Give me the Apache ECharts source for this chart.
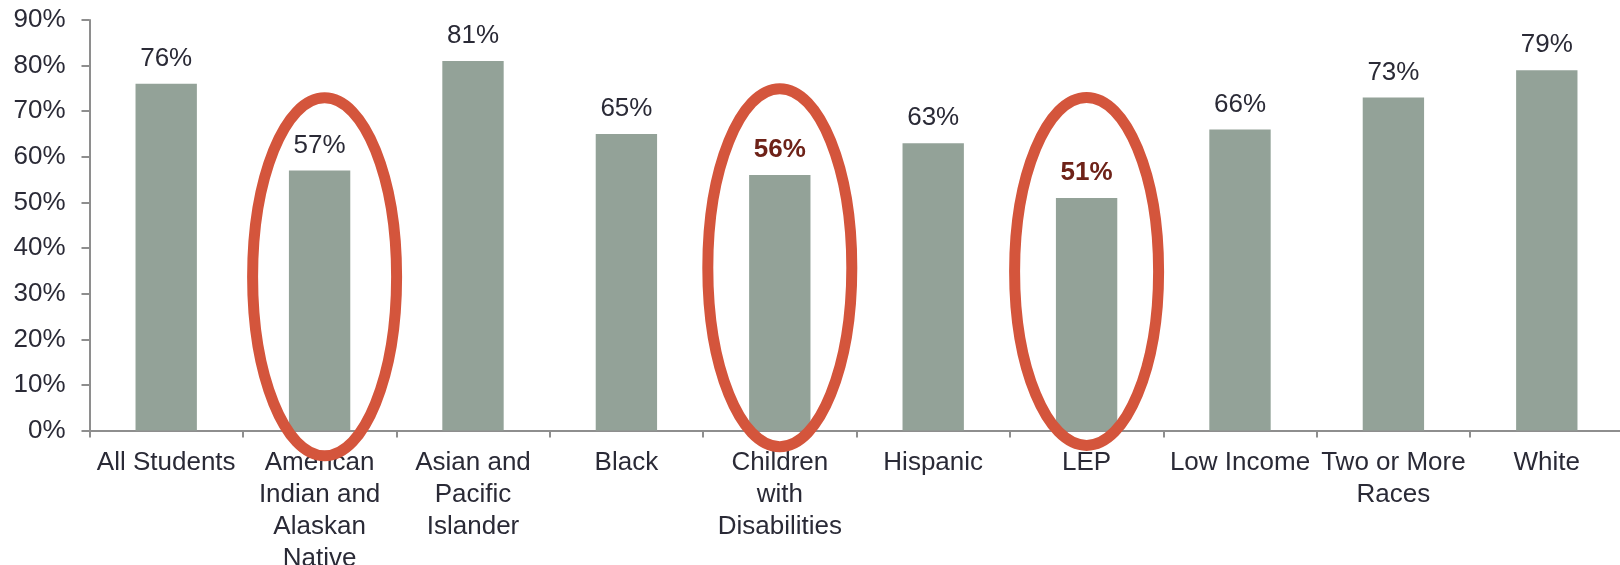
<!DOCTYPE html>
<html>
<head>
<meta charset="utf-8">
<script src="https://cdn.jsdelivr.net/npm/echarts@6/dist/echarts.min.js"></script>
<style>
html,body{margin:0;padding:0;background:#fff;}
#chart{width:1620px;height:565px;}
</style>
</head>
<body>
<div id="chart"></div>
<script>
var categories = ["All Students", "American\nIndian and\nAlaskan\nNative", "Asian and\nPacific\nIslander", "Black", "Children\nwith\nDisabilities", "Hispanic", "LEP", "Low Income", "Two or More\nRaces", "White"];
var values = [76, 57, 81, 65, 56, 63, 51, 66, 73, 79];
var highlighted = [4, 6];          // bold dark-red labels
var circled = [1, 4, 6];           // categories circled
var circleCenterValues = [33.7, 35.7, 34.9];
var yTicks = [0, 10, 20, 30, 40, 50, 60, 70, 80, 90];

var chart = echarts.init(document.getElementById('chart'), null, {renderer: 'canvas'});
var textColor = '#2a2a36';
var axisColor = '#8e8e8e';

var data = values.map(function (v, i) {
  var item = {value: v};
  if (highlighted.indexOf(i) >= 0) {
    item.label = {fontWeight: 'bold', color: '#6e2218'};
  }
  return item;
});

chart.setOption({
  animation: false,
  grid: {left: 89.5, top: 20, width: 1534, bottom: 134.4, containLabel: false, outerBoundsMode: 'none'},
  xAxis: {
    type: 'category',
    data: categories,
    axisLine: {lineStyle: {color: axisColor, width: 2}},
    axisTick: {show: true, length: 7, lineStyle: {color: axisColor, width: 2}},
    axisLabel: {
      interval: 0,
      margin: 16,
      fontSize: 26,
      lineHeight: 32,
      color: textColor,
      fontFamily: 'Liberation Sans, Arial, sans-serif'
    }
  },
  yAxis: {
    type: 'value',
    min: yTicks[0],
    max: yTicks[yTicks.length - 1],
    interval: 10,
    splitLine: {show: false},
    axisLine: {show: true, lineStyle: {color: axisColor, width: 2}},
    axisTick: {show: true, length: 8, lineStyle: {color: axisColor, width: 2}},
    axisLabel: {
      formatter: '{value}%',
      margin: 24,
      fontSize: 26,
      color: textColor,
      fontFamily: 'Liberation Sans, Arial, sans-serif'
    }
  },
  series: [{
    type: 'bar',
    data: data,
    barWidth: '40%',
    itemStyle: {color: '#93a298'},
    label: {
      show: true,
      position: 'top',
      distance: 12,
      formatter: '{c}%',
      fontSize: 26,
      color: textColor,
      fontFamily: 'Liberation Sans, Arial, sans-serif'
    }
  }]
});

var offsets = [5, 0, 0];
var ryPx = [179, 179, 174];
var graphics = circled.map(function (ci, k) {
  var p = chart.convertToPixel({seriesIndex: 0}, [ci, circleCenterValues[k]]);
  return {
    type: 'ellipse',
    z: 100,
    shape: {cx: p[0] + offsets[k], cy: p[1], rx: 72, ry: ryPx[k]},
    style: {fill: 'none', stroke: '#d4553c', lineWidth: 11}
  };
});
chart.setOption({graphic: graphics});
</script>
</body>
</html>
